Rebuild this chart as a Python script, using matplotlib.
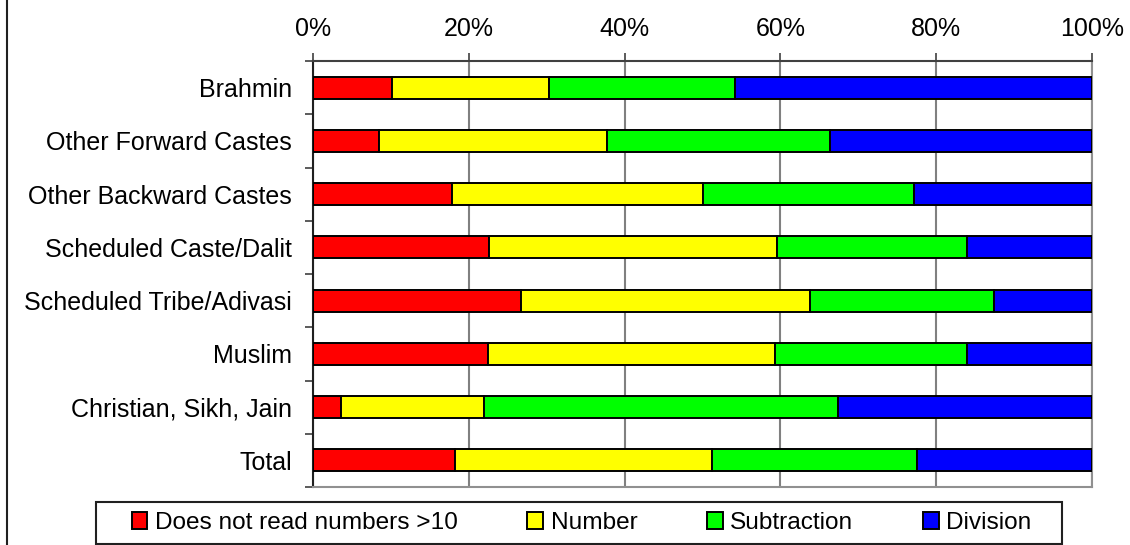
"""Stacked percentage bars: arithmetic level by social group."""

import matplotlib
matplotlib.use("Agg")
import matplotlib.pyplot as plt
from matplotlib.lines import Line2D
from matplotlib.patches import Rectangle
from matplotlib.ticker import FixedLocator, PercentFormatter

groups = [
    "Brahmin",
    "Other Forward Castes",
    "Other Backward Castes",
    "Scheduled Caste/Dalit",
    "Scheduled Tribe/Adivasi",
    "Muslim",
    "Christian, Sikh, Jain",
    "Total",
]
levels = ["Does not read numbers >10", "Number", "Subtraction", "Division"]
below_10 = [10.1, 8.5, 17.8, 22.6, 26.7, 22.5, 3.6, 18.2]
number = [20.2, 29.3, 32.3, 36.9, 37.1, 36.8, 18.4, 33.0]
subtraction = [23.9, 28.6, 27.0, 24.5, 23.6, 24.7, 45.4, 26.3]
division = [45.8, 33.6, 22.9, 16.0, 12.6, 16.0, 32.6, 22.5]
colors = ["#ff0000", "#ffff00", "#00ff00", "#0000ff"]

plt.rcParams["font.family"] = ["Liberation Sans", "DejaVu Sans"]
FS = 18
LEG_FS = 17.6

fig = plt.figure(figsize=(11.3, 5.45), dpi=100, facecolor="white")
ax = fig.add_axes([313 / 1130, 1 - 487 / 545, 779 / 1130, 426 / 545])

ypos = list(range(len(groups)))
left = [0.0] * len(groups)
handles = []
for name, vals, col in zip(levels, [below_10, number, subtraction, division], colors):
    bars = ax.barh(ypos, vals, left=left, height=0.41, color=col,
                   edgecolor="black", linewidth=1.4, zorder=3, label=name)
    handles.append(bars)
    left = [a + b for a, b in zip(left, vals)]

ax.set_xlim(0, 100)
ax.set_ylim(len(groups) - 0.5, -0.5)

# percent scale along the top
ax.xaxis.tick_top()
ax.set_xticks([0, 20, 40, 60, 80, 100])
ax.xaxis.set_major_formatter(PercentFormatter(decimals=0))
ax.tick_params(axis="x", length=5.8, width=1.2, color="#404040",
               labelsize=FS, pad=8.6)
ax.grid(axis="x", color="#808080", linewidth=1.5, zorder=0)

# category labels, ticks between rows
ax.set_yticks(ypos)
ax.set_yticklabels(groups, fontsize=FS)
ax.yaxis.set_minor_locator(FixedLocator([i - 0.5 for i in range(len(groups) + 1)]))
ax.tick_params(axis="y", which="major", length=0, pad=15)
ax.tick_params(axis="y", which="minor", length=5.8, width=1.2, color="#404040")

ax.spines["left"].set_color("#202020")
ax.spines["left"].set_linewidth(1.5)
ax.spines["top"].set_color("#404040")
ax.spines["top"].set_linewidth(1.5)
for side in ("right", "bottom"):
    ax.spines[side].set_color("#909090")
    ax.spines[side].set_linewidth(1.5)

# legend box along the bottom
fig.patches.append(Rectangle((96 / 1130, 1 - 544 / 545), 966 / 1130, 42 / 545,
                             transform=fig.transFigure, facecolor="white",
                             edgecolor="#202020", linewidth=1.5))
fig.legend(handles=handles, loc="center",
           bbox_to_anchor=(((133 + 1030) / 2) / 1130, 1 - 523 / 545),
           ncol=4, frameon=False, fontsize=LEG_FS, handlelength=0.65,
           handleheight=0.65, handletextpad=0.3, columnspacing=2.85,
           borderpad=0.0)

fig.lines.append(Line2D([7 / 1130, 7 / 1130], [0, 1], transform=fig.transFigure,
                        color="#202020", linewidth=1.5))

fig.savefig("out.png", dpi=100, facecolor="white")
